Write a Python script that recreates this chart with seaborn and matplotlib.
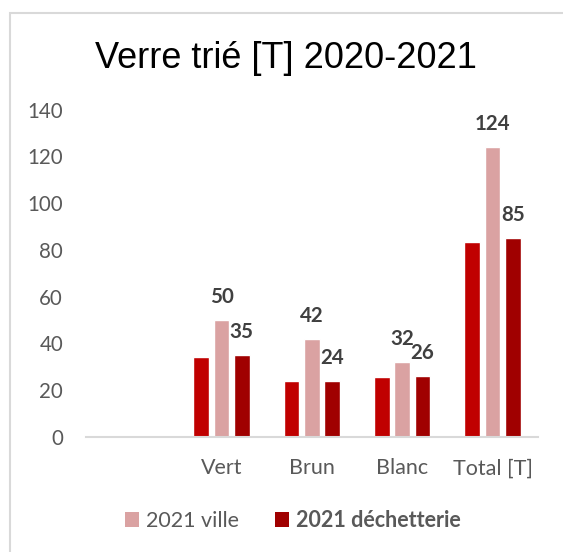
import matplotlib
matplotlib.use("Agg")
import matplotlib.pyplot as plt
import seaborn as sns
import pandas as pd
from matplotlib.patches import Patch, Rectangle

# ---- data ----
categories = [" ", "Vert", "Brun", "Blanc", "Total [T]"]
data_categories = ["Vert", "Brun", "Blanc", "Total [T]"]
series_names = ["2020", "2021 ville", "2021 déchetterie"]
values_2020 = [34.1, 23.7, 25.4, 83.2]
values_2021_ville = [50, 42, 32, 124]
values_2021_dechetterie = [35, 24, 26, 85]
labelled_series = ["2021 ville", "2021 déchetterie"]
legend_series = ["2021 ville", "2021 déchetterie"]
title_text = "Verre trié [T] 2020-2021"
y_ticks = [0, 20, 40, 60, 80, 100, 120, 140]

colors = {"2020": "#C00000", "2021 ville": "#DAA2A2", "2021 déchetterie": "#A00000"}

rows = []
for name, vals in zip(series_names, [values_2020, values_2021_ville, values_2021_dechetterie]):
    for c, v in zip(data_categories, vals):
        rows.append({"cat": c, "serie": name, "val": v})
df = pd.DataFrame(rows)

sns.set_theme(style="white")
plt.rcParams["font.family"] = ["Lato", "DejaVu Sans"]

W, H = 563, 552
fig = plt.figure(figsize=(W / 100, H / 100), dpi=100)

# chart border
fig.patches.append(Rectangle((10 / W, -0.1), 1.2, (H - 13) / H + 0.1, transform=fig.transFigure,
                             fill=False, edgecolor="#D9D9D9", linewidth=1.5, zorder=0))

ax_left, ax_right = 86 / W, 537.7 / W
ax_bottom = (H - 436.7) / H
ax_top = (H - 109.7) / H
ax = fig.add_axes([ax_left, ax_bottom, ax_right - ax_left, ax_top - ax_bottom])

sns.barplot(data=df, x="cat", y="val", hue="serie", order=categories, hue_order=series_names,
            palette=colors, width=0.674, gap=0.236, ax=ax, legend=False, saturation=1,
            errorbar=None)

ax.set_xlim(-0.5, 4.5)
ax.set_ylim(0, 140)
ax.set_yticks(y_ticks)
ax.set_xlabel("")
ax.set_ylabel("")
for s in ["top", "right", "left"]:
    ax.spines[s].set_visible(False)
ax.spines["bottom"].set_color("#D9D9D9")
ax.spines["bottom"].set_linewidth(1.5)
ax.tick_params(axis="both", length=0, labelcolor="#595959")
ax.tick_params(axis="y", pad=16.5, labelsize=14.8)
ax.tick_params(axis="x", pad=15.5, labelsize=15.5)
ax.grid(False)

# data labels
for cont, name in zip(ax.containers, series_names):
    if name not in labelled_series:
        continue
    for p in cont.patches:
        h = p.get_height()
        if h != h or h == 0:
            continue
        ax.annotate(f"{h:.0f}", (p.get_x() + p.get_width() / 2, h), xytext=(0, 12.3),
                    textcoords="offset points", ha="center", va="baseline",
                    fontsize=14.8, fontweight="bold", color="#404040", annotation_clip=False)

# title
fig.text(286 / W, (H - 54.5) / H, title_text, ha="center", va="center_baseline",
         fontsize=26, color="black", family=["Liberation Sans", "DejaVu Sans"])

# legend
handles = [Patch(facecolor=colors[n], edgecolor="none", label=n) for n in legend_series]
leg = fig.legend(handles=handles, loc="center", bbox_to_anchor=(293 / W, (H - 520.7) / H),
                 ncol=2, frameon=False, fontsize=15.5, handlelength=0.65, handleheight=0.65,
                 handletextpad=0.3, columnspacing=1.7)
for t in leg.get_texts():
    t.set_color("#595959")
leg.get_texts()[1].set_fontweight("bold")

fig.savefig("out.png", dpi=100)
